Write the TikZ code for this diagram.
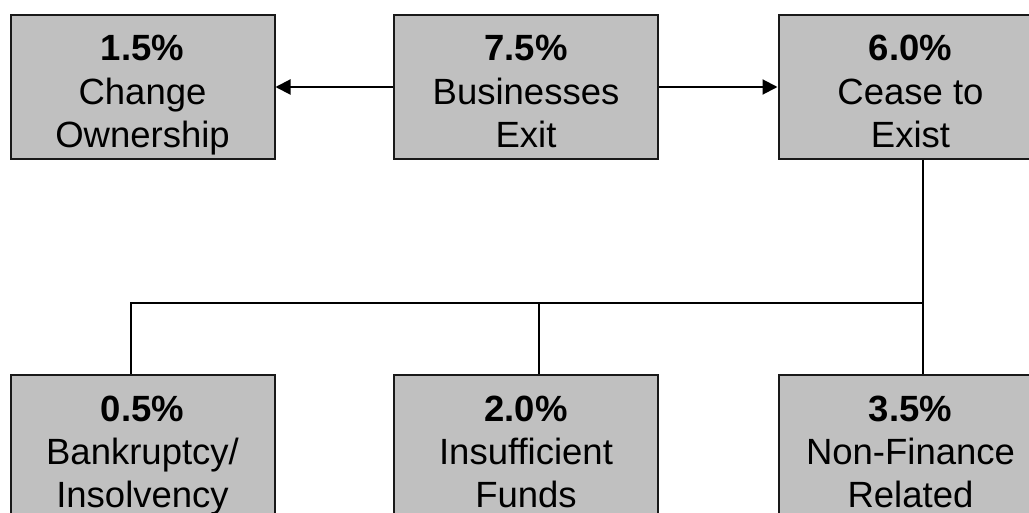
\documentclass[tikz,border=0pt]{standalone}
\usepackage{fontspec}
\setmainfont{Liberation Sans}
\usetikzlibrary{arrows.meta}
\definecolor{boxgray}{RGB}{192,192,192}
\newcommand{\hiS}{\rule{0pt}{44.8pt}}
\newcommand{\loS}{\rule[-10pt]{0pt}{10pt}}
\begin{document}
\begin{tikzpicture}[x=1pt,y=-1pt,
  box/.style={draw=black!90, line width=2pt, fill=boxgray, minimum width=264pt, minimum height=144pt, inner sep=0pt, align=center, font=\fontsize{36.5}{43.4}\selectfont},
  conn/.style={draw=black, line width=2pt},
  arr/.style={conn, -{Triangle[length=15pt,width=15pt]}}]
\useasboundingbox (0,0) rectangle (1029,513);
\node[box] (own) at (142.5,87) {\hiS\textbf{1.5\%}\\Change\\Ownership\loS};
\node[box] (exit) at (526,87) {\hiS\textbf{7.5\%}\\Businesses\\Exit\loS};
\node[box] (cease) at (910.5,87) {\hiS\textbf{6.0\%}\\Cease to\\Exist\loS};
\node[box] (bank) at (142.5,447) {\hiS\textbf{0.5\%}\\Bankruptcy/\\Insolvency\loS};
\node[box] (insf) at (526,447) {\hiS\textbf{2.0\%}\\Insufficient\\Funds\loS};
\node[box] (nonf) at (910.5,447) {\hiS\textbf{3.5\%}\\Non-Finance\\Related\loS};
\draw[arr] (exit.west) -- (own.east);
\draw[arr] (exit.east) -- (cease.west);
\coordinate (j) at (922.5,303.5);
\coordinate (jb) at (131,303.5);
\coordinate (ji) at (538.5,303.5);
\draw[conn] (cease.south -| j) -- (j) -- (nonf.north -| j);
\draw[conn] (j) -- (jb) -- (bank.north -| jb);
\draw[conn] (ji) -- (insf.north -| ji);
\end{tikzpicture}
\end{document}
